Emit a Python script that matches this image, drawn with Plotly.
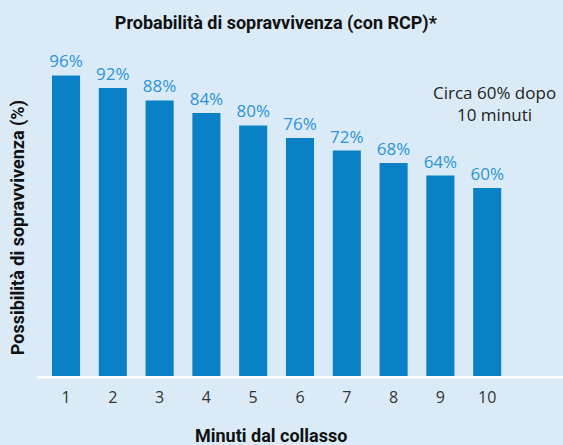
import plotly.graph_objects as go

minutes = [1, 2, 3, 4, 5, 6, 7, 8, 9, 10]
survival = [96, 92, 88, 84, 80, 76, 72, 68, 64, 60]
bar_labels = [f"{v}%" for v in survival]
tick_labels = [str(m) for m in minutes]

title_text = "Probabilità di sopravvivenza (con RCP)*"
x_title = "Minuti dal collasso"
y_title = "Possibilità di sopravvivenza (%)"
note_text = "Circa 60% dopo<br>10 minuti"

BG = "#daebf7"
BAR = "#0a80c6"
LABEL = "#2b93d8"
COND = "Roboto, Liberation Sans, sans-serif"
GEO = "Open Sans, Lato, DejaVu Sans, sans-serif"

fig = go.Figure(go.Bar(
    x=minutes, y=survival, width=0.6,
    marker=dict(color=BAR, line=dict(width=0)),
    text=bar_labels, textposition="outside", cliponaxis=False,
    constraintext="none",
    textfont=dict(color=LABEL, size=17, family=GEO),
    hoverinfo="skip",
))

fig.update_layout(
    width=563, height=445,
    paper_bgcolor=BG, plot_bgcolor=BG,
    margin=dict(l=37, r=0, t=40, b=69, autoexpand=False),
    showlegend=False,
    title=dict(text=f"<b>{title_text}</b>", x=0.49, xanchor="center", y=0.95, yanchor="middle",
               font=dict(family=COND, size=18, color="#111")),
    xaxis=dict(range=[0.38, 11.62], tickmode="array", tickvals=minutes, ticktext=tick_labels,
               showgrid=False, zeroline=False, showline=False, ticks="", automargin=False,
               ticklabelstandoff=10,
               tickfont=dict(family=GEO, size=16, color="#333")),
    yaxis=dict(range=[0, 107.3], visible=False, showgrid=False, zeroline=False, automargin=False),
    annotations=[
        dict(text=f"<b>{x_title}</b>", xref="paper", yref="paper", x=0.445, y=-0.176,
             xanchor="center", yanchor="middle", showarrow=False,
             font=dict(family=COND, size=18, color="#111")),
        dict(text=f"<b>{y_title}</b>", xref="paper", yref="paper", x=-0.036, y=0.44,
             xanchor="center", yanchor="middle", textangle=-90, showarrow=False,
             font=dict(family=COND, size=18, color="#111")),
        dict(text=note_text, xref="paper", yref="paper", x=0.99, y=0.81,
             xanchor="right", yanchor="middle", showarrow=False, align="center",
             font=dict(family=GEO, size=17, color="#222")),
    ],
    shapes=[dict(type="line", xref="paper", yref="paper", x0=0, x1=1, y0=-0.004, y1=-0.004,
                 line=dict(color="white", width=2.5))],
)

fig.write_html("out.html", config={"displayModeBar": False},
               post_script="document.body.style.margin='0';document.body.style.background='#daebf7';")
